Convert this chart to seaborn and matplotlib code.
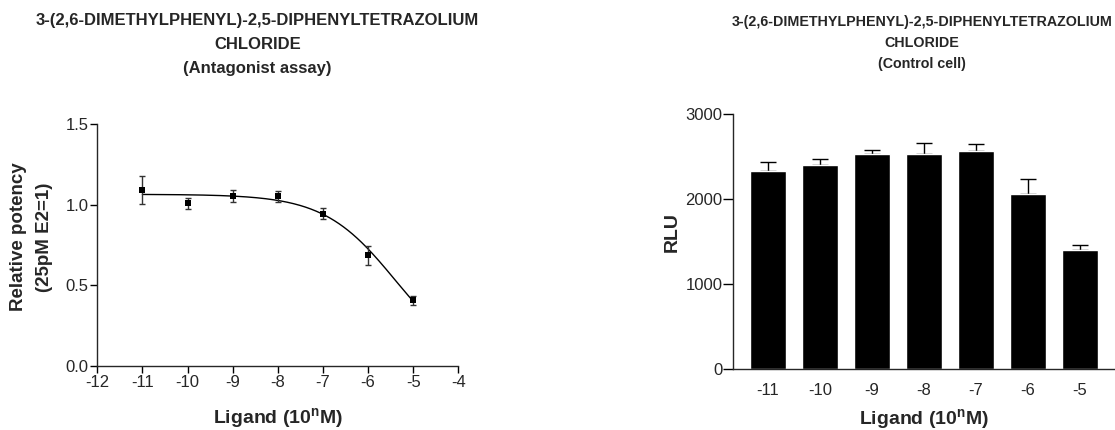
import numpy as np
import pandas as pd
import matplotlib
matplotlib.use("Agg")
import matplotlib.pyplot as plt
import seaborn as sns

# ---------------- data ----------------
log_conc = [-11, -10, -9, -8, -7, -6, -5]
potency_mean = [1.092, 1.009, 1.052, 1.052, 0.945, 0.686, 0.406]
potency_err = [0.087, 0.035, 0.037, 0.035, 0.035, 0.060, 0.029]

# four-parameter logistic fit shown as the curve
fit_top = 1.065
fit_bottom = 0.0
fit_log_ic50 = -5.4
fit_hill = 0.55

bar_labels = ["-11", "-10", "-9", "-8", "-7", "-6", "-5"]
rlu_mean = [2325, 2395, 2525, 2533, 2560, 2054, 1394]
rlu_err = [110, 79, 51, 129, 87, 184, 67]

title_left = "3-(2,6-DIMETHYLPHENYL)-2,5-DIPHENYLTETRAZOLIUM\nCHLORIDE\n(Antagonist assay)"
title_right = "3-(2,6-DIMETHYLPHENYL)-2,5-DIPHENYLTETRAZOLIUM\nCHLORIDE\n(Control cell)"
xlabel = r"Ligand (10$^{\mathbf{n}}$M)"
ylabel_left = "Relative potency\n(25pM E2=1)"
ylabel_right = "RLU"

# ---------------- style ----------------
sns.set_style("ticks")
plt.rcParams["font.family"] = ["Liberation Sans", "DejaVu Sans"]
plt.rcParams["axes.unicode_minus"] = False
plt.rcParams["mathtext.fontset"] = "custom"
plt.rcParams["mathtext.rm"] = "Liberation Sans:bold"
plt.rcParams["mathtext.bf"] = "Liberation Sans:bold"
plt.rcParams["mathtext.it"] = "Liberation Sans:bold"
plt.rcParams["axes.linewidth"] = 1.0

W, H = 1115, 430
fig = plt.figure(figsize=(W / 100, H / 100), dpi=100)

# ---------------- left panel ----------------
axL = fig.add_axes([97.3 / W, 1 - 365.7 / H, 361 / W, 241.4 / H])
df_pts = pd.DataFrame({"x": log_conc, "y": potency_mean})
x_fit = np.linspace(min(log_conc), max(log_conc), 300)
y_fit = fit_bottom + (fit_top - fit_bottom) / (1 + 10 ** ((x_fit - fit_log_ic50) * fit_hill))
sns.lineplot(x=x_fit, y=y_fit, ax=axL, color="black", lw=1.0, zorder=2)
axL.errorbar(log_conc, potency_mean, yerr=potency_err, fmt="none",
             ecolor="#333333", elinewidth=1.0, capsize=2.2, capthick=1.0, zorder=3)
sns.scatterplot(data=df_pts, x="x", y="y", ax=axL, marker="s", s=22,
                color="black", edgecolor="black", linewidth=0, zorder=4)
axL.set_xlim(-12, -4)
axL.set_ylim(0, 1.5)
axL.set_xticks(range(-12, -3))
axL.set_yticks([0, 0.5, 1.0, 1.5])
axL.set_yticklabels(["0.0", "0.5", "1.0", "1.5"])
axL.tick_params(axis="both", labelsize=12, length=5, width=1.0, color="black", pad=1.5)
sns.despine(ax=axL)
axL.set_xlabel(xlabel, fontsize=14, fontweight="bold")
axL.xaxis.set_label_coords(0.5, -0.217)
axL.xaxis.label.set_va("center")
axL.set_ylabel(ylabel_left, fontsize=13.5, fontweight="bold", linespacing=1.75)
axL.yaxis.set_label_coords(-0.182, 0.533)
axL.yaxis.label.set_va("center")

# ---------------- right panel ----------------
axR = fig.add_axes([732.7 / W, 1 - 368.7 / H, 382.2 / W, 254.7 / H])
df_bar = pd.DataFrame({"conc": bar_labels, "rlu": rlu_mean})
sns.barplot(data=df_bar, x="conc", y="rlu", order=bar_labels, ax=axR,
            color="black", saturation=1, width=0.686, errorbar=None, zorder=2)
axR.errorbar(range(len(bar_labels)), rlu_mean,
             yerr=[np.zeros(len(rlu_err)), rlu_err], fmt="none",
             ecolor="black", elinewidth=1.0, capsize=6.1, capthick=1.0, zorder=1)
axR.set_xlim(-0.674, 6.674)
axR.set_ylim(0, 3000)
axR.set_yticks([0, 1000, 2000, 3000])
axR.tick_params(axis="y", labelsize=12, length=7, width=1.0, color="black", pad=0.5)
axR.tick_params(axis="x", labelsize=12, length=0, pad=10)
sns.despine(ax=axR)
axR.set_xlabel(xlabel, fontsize=14, fontweight="bold")
axR.xaxis.set_label_coords(0.5, -0.196)
axR.xaxis.label.set_va("center")
axR.set_ylabel(ylabel_right, fontsize=14, fontweight="bold")
axR.yaxis.set_label_coords(-0.159, 0.537)
axR.yaxis.label.set_va("center")

# ---------------- titles ----------------
fig.text(257.5 / W, 1 - 44.5 / H, title_left, ha="center", va="center",
         fontsize=12, fontweight="bold", linespacing=1.75)
fig.text(922 / W, 1 - 42.7 / H, title_right, ha="center", va="center",
         fontsize=10.3, fontweight="bold", linespacing=1.65)

fig.savefig("out.png", dpi=100)
